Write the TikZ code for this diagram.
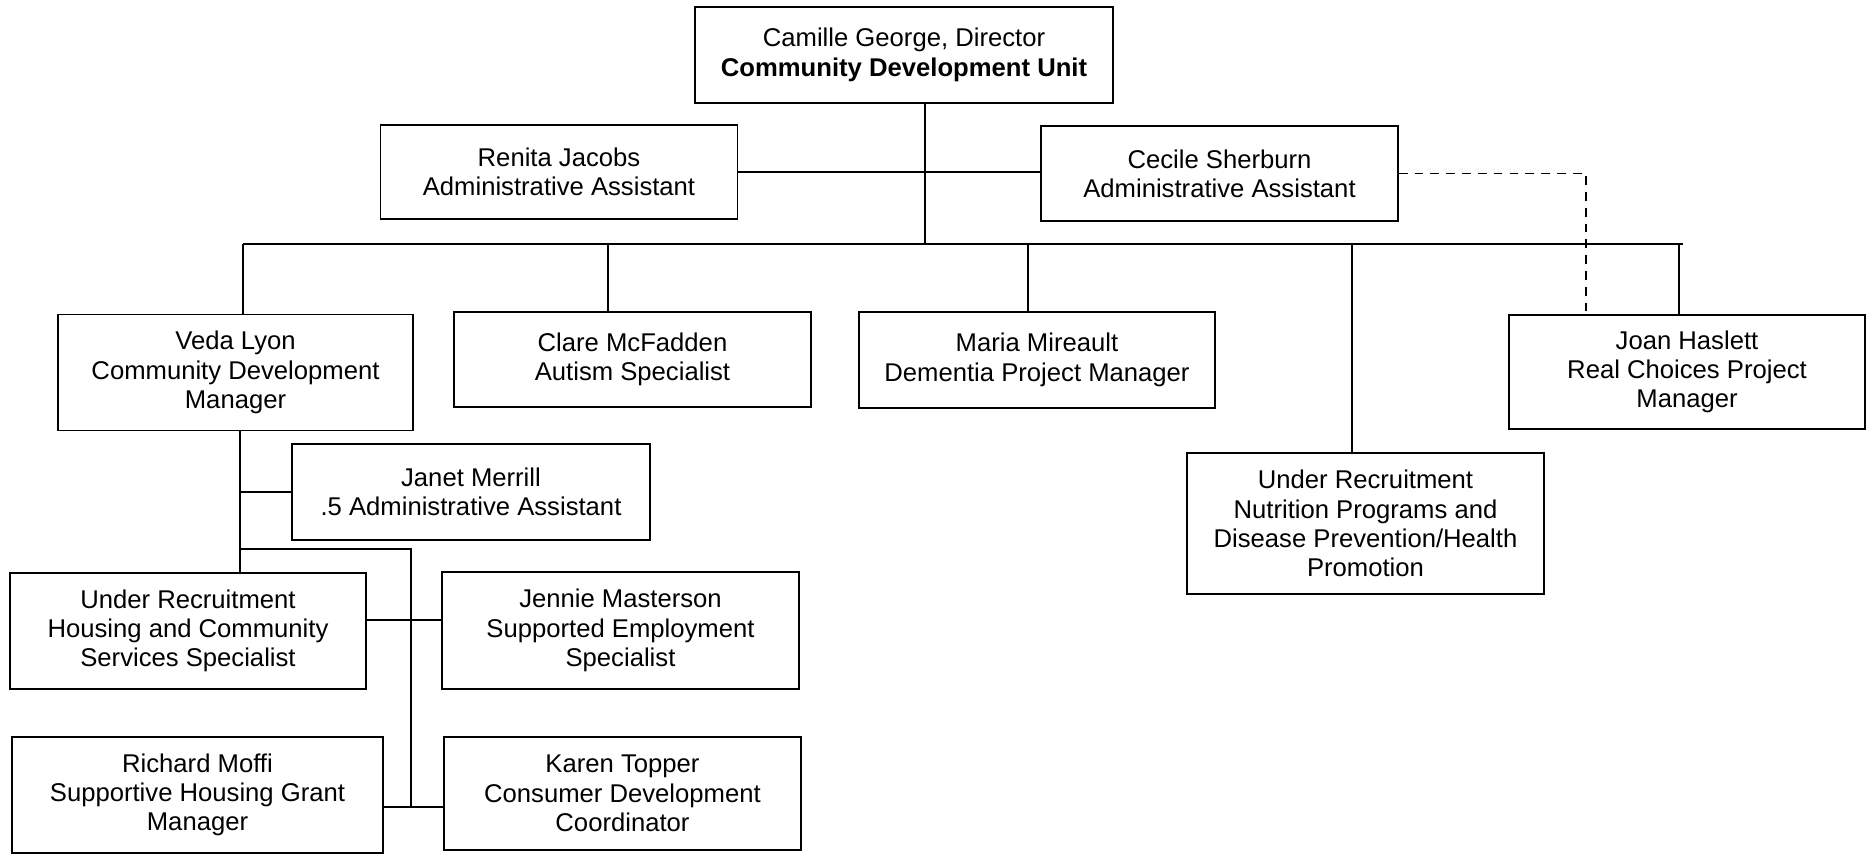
\documentclass[tikz,border=0pt]{standalone}
\usepackage{fontspec}
\setmainfont{Liberation Sans}
\usetikzlibrary{positioning}

\begin{document}
\begin{tikzpicture}[
    % Styles
    post/.style={draw=black, line width=0.9pt, fill=white, align=center, inner sep=2pt,
        font=\fontsize{14.6}{16.7}\selectfont, minimum width=7.14cm, minimum height=1.9cm},
    tall/.style={post, minimum height=2.32cm},
    link/.style={line width=0.8pt, black},
    dotted-link/.style={link, dash pattern=on 5pt off 4pt},
]
\useasboundingbox (0,0) rectangle (37.4,-17.16);

% Top level
\node[post, minimum width=8.36cm, minimum height=1.92cm] (director) at (18.08, -1.10)
    {Camille George, Director\\\textbf{Community Development Unit}};

% Assistants
\node[post, minimum height=1.88cm] (renita) at (11.18, -3.44) {Renita Jacobs\\Administrative Assistant};
\node[post] (cecile) at (24.39, -3.47) {Cecile Sherburn\\Administrative Assistant};

% Second level
\node[tall, minimum width=7.10cm] (veda) at (4.71, -7.45) {Veda Lyon\\Community Development\\Manager};
\node[post] (clare) at (12.65, -7.19) {Clare McFadden\\Autism Specialist};
\node[post, minimum width=7.12cm, minimum height=1.92cm] (maria) at (20.74, -7.20) {Maria Mireault\\Dementia Project Manager};
\node[tall, minimum width=7.12cm, minimum height=2.28cm] (joan) at (33.74, -7.44) {Joan Haslett\\Real Choices Project\\Manager};
\node[post, minimum height=2.82cm] (nutrition) at (27.31, -10.47)
    {Under Recruitment\\Nutrition Programs and\\Disease Prevention/Health\\Promotion};

% Under Veda Lyon
\node[post, minimum width=7.16cm, minimum height=1.92cm] (janet) at (9.42, -9.84) {Janet Merrill\\.5 Administrative Assistant};
\node[tall, minimum width=7.12cm] (housing) at (3.76, -12.62) {Under Recruitment\\Housing and Community\\Services Specialist};
\node[tall, minimum height=2.34cm] (jennie) at (12.41, -12.61) {Jennie Masterson\\Supported Employment\\Specialist};
\node[tall, minimum width=7.42cm] (richard) at (3.95, -15.90) {Richard Moffi\\Supportive Housing Grant\\Manager};
\node[tall, minimum height=2.26cm] (karen) at (12.45, -15.87) {Karen Topper\\Consumer Development\\Coordinator};

% Main bus
\coordinate (trunk) at (18.50, -4.88);
\coordinate (busL) at (4.86, -4.88);
\coordinate (busR) at (33.66, -4.88);
\draw[link] (director.south -| trunk) -- (trunk);
\draw[link] (busL) -- (busR);
\draw[link] (renita.east) -- (renita.east -| cecile.west);

% Drops to second level
\draw[link] (busL) -- (veda.north -| busL);
\draw[link] ([xshift=-0.49cm]clare.north) -- ([xshift=-0.49cm]clare.north |- busL);
\draw[link] ([xshift=-0.18cm]maria.north) -- ([xshift=-0.18cm]maria.north |- busL);
\draw[link] ([xshift=-0.27cm]nutrition.north) -- ([xshift=-0.27cm]nutrition.north |- busL);
\draw[link] ([xshift=-0.16cm]joan.north) -- ([xshift=-0.16cm]joan.north |- busL);

% Dotted line to Joan Haslett
\draw[dotted-link] (cecile.east) -| ([xshift=-2.02cm]joan.north);

% Veda Lyon's branch
\coordinate (vedaTap) at (4.80, -10.98);
\coordinate (vedaSide) at (8.22, -10.98);
\coordinate (vedaEnd) at (8.22, -16.14);
\draw[link] (veda.south -| vedaTap) -- (housing.north -| vedaTap);
\draw[link] (janet.west -| vedaTap) -- (janet.west);
\draw[link] (vedaTap) -- (vedaSide) -- (vedaEnd);
\draw[link] ([yshift=0.22cm]housing.east) -- ([yshift=0.22cm]housing.east -| jennie.west);
\draw[link] (richard.east |- vedaEnd) -- (karen.west |- vedaEnd);

\end{tikzpicture}
\end{document}
